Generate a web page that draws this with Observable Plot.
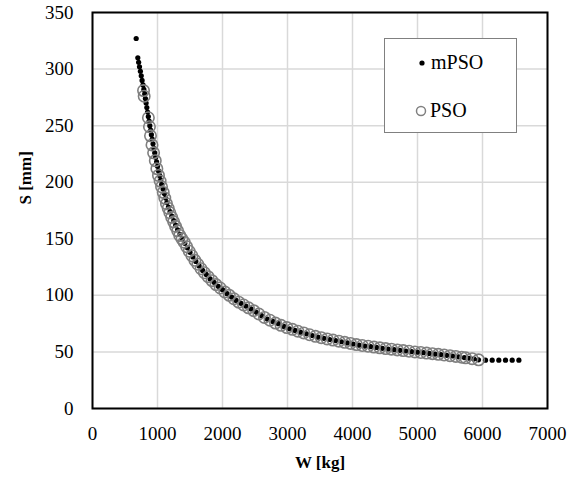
<!DOCTYPE html>
<html>
<head>
<meta charset="utf-8">
<script src="https://cdn.jsdelivr.net/npm/d3@7"></script>
<script src="https://cdn.jsdelivr.net/npm/@observablehq/plot@0.6"></script>
<style>
html, body { margin: 0; padding: 0; background: #fff; }
#wrap { position: relative; width: 583px; height: 479px; }
#wrap svg text { font-family: "Liberation Serif", "Times New Roman", serif; }
#legend { position: absolute; left: 384px; top: 38px; width: 133px; height: 95px; box-sizing: border-box;
  border: 1.5px solid #808080; background: #fff;
  font-family: "Liberation Serif", "Times New Roman", serif; font-size: 20px; color: #000; }
#legend .item { position: absolute; height: 24px; line-height: 24px; white-space: nowrap; }
#legend svg { position: absolute; }
</style>
</head>
<body>
<div id="wrap"></div>
<script>
// ---- data ----
const xTicks = [0, 1000, 2000, 3000, 4000, 5000, 6000, 7000];
const yTicks = [0, 50, 100, 150, 200, 250, 300, 350];
const seriesNames = ["mPSO", "PSO"];

const mpsoW = [672, 697, 710, 723, 737, 750, 763, 777, 790, 803, 814, 825, 836, 847, 859, 871, 882, 894, 906, 919,
  931, 944, 957, 971, 986, 1000, 1017, 1033, 1050, 1064, 1086, 1105, 1125, 1145, 1168, 1193, 1220, 1250, 1279, 1309,
  1345, 1382, 1420, 1460, 1500, 1545, 1590, 1640, 1695, 1750, 1810, 1870, 1935, 2000, 2070, 2140, 2210, 2285, 2360, 2440,
  2520, 2600, 2690, 2775, 2860, 2945, 3030, 3115, 3200, 3290, 3380, 3470, 3560, 3650, 3740, 3830, 3920, 4010, 4100, 4190,
  4280, 4370, 4460, 4550, 4640, 4730, 4820, 4910, 5000, 5090, 5180, 5270, 5360, 5450, 5540, 5630, 5720, 5800, 5866, 5938,
  6046, 6149, 6251, 6354, 6457, 6560];
const mpsoS = [327, 310, 306, 302, 298, 294, 290, 286, 282, 278, 274, 270, 266, 262, 258, 254, 250, 246, 242, 238,
  234, 230, 226, 222, 218, 214, 210, 206, 202, 198, 194, 190, 186, 182, 178, 174, 170, 166, 162, 158,
  154, 150, 146, 142, 138, 134, 130, 126, 122, 118.5, 114.5, 111.5, 108, 105, 101.5, 98.5, 95.5, 93, 90.5, 88,
  85, 82, 79, 77, 75, 72.5, 70.5, 69, 67.5, 66, 64.5, 63, 62, 61, 60, 59, 58, 57, 56, 55.2,
  54.6, 54, 53.2, 52.6, 52, 51.4, 50.8, 50.2, 49.8, 49.3, 48.7, 48.1, 47.6, 47, 46.4, 45.7, 45, 44.4, 43.8, 43,
  42.7, 42.7, 42.7, 42.7, 42.7, 42.7];

const psoW = [785, 795, 860, 876, 892, 915, 940, 966, 990, 1015, 1040, 1062, 1088, 1112, 1138, 1165, 1190, 1218, 1248, 1278,
  1310, 1342, 1375, 1410, 1448, 1488, 1530, 1575, 1620, 1670, 1722, 1778, 1838, 1900, 1965, 2035, 2105, 2175, 2250, 2325,
  2400, 2480, 2560, 2645, 2730, 2815, 2900, 2990, 3075, 3160, 3250, 3340, 3430, 3520, 3610, 3700, 3790, 3880, 3970, 4060,
  4150, 4240, 4330, 4420, 4510, 4600, 4690, 4780, 4870, 4960, 5050, 5140, 5230, 5320, 5410, 5500, 5590, 5680, 5740, 5840, 5940];
const psoS = [281, 276, 257, 249, 241, 233, 226, 219, 212, 206, 201, 196, 191, 186, 181, 177, 173, 169, 165, 161,
  157, 153, 150, 147, 143, 139, 135, 131, 127.5, 123.5, 120, 116.5, 113, 109.5, 106.5, 103, 100, 97, 94, 91.5,
  89, 86.5, 83.5, 80.5, 78, 75.5, 73.5, 71.5, 70, 68.3, 66.8, 65.2, 63.8, 62.6, 61.5, 60.5, 59.5, 58.5, 57.5, 56.5,
  55.7, 55, 54.3, 53.6, 53, 52.4, 51.8, 51.2, 50.6, 50, 49.5, 49, 48.5, 47.9, 47.3, 46.7, 46, 45.3, 44.8, 44, 43];

const xTitle = "W [kg]";
const yTitle = "S [mm]";

// ---- build tables ----
const mpso = mpsoW.map((w, i) => ({W: w, S: mpsoS[i]}));
const pso = psoW.map((w, i) => ({W: w, S: psoS[i]}));

const font = "Liberation Serif";
const fmt = (d) => String(d);

const chart = Plot.plot({
  width: 583,
  height: 479,
  marginLeft: 92,
  marginRight: 36,
  marginTop: 12,
  marginBottom: 71,
  style: "font-family: 'Liberation Serif', 'Times New Roman', serif; font-size: 19px; color: #000; background: #fff;",
  x: {domain: [0, 7000]},
  y: {domain: [0, 350]},
  marks: [
    Plot.gridX(xTicks, {stroke: "#d9d9d9", strokeOpacity: 1, strokeWidth: 1.5}),
    Plot.gridY(yTicks, {stroke: "#d9d9d9", strokeOpacity: 1, strokeWidth: 1.5}),
    Plot.axisX(xTicks, {tickSize: 0, tickPadding: 18, label: null, fontSize: 19, fill: "#000", fontFamily: font, tickFormat: fmt}),
    Plot.axisY(yTicks, {tickSize: 0, tickPadding: 19, label: null, fontSize: 19, fill: "#000", fontFamily: font, tickFormat: fmt}),
    Plot.dot(mpso, {x: "W", y: "S", r: 2.6, fill: "#000", stroke: "none"}),
    Plot.dot(pso, {x: "W", y: "S", r: 5.7, stroke: "#7f7f7f", strokeWidth: 1.6, fill: "none"}),
    Plot.frame({stroke: "#000", strokeWidth: 2}),
    Plot.text([xTitle], {frameAnchor: "bottom", dy: 59, fontWeight: "bold", fontSize: 17, fill: "#000", fontFamily: font}),
    Plot.text([yTitle], {frameAnchor: "left", dx: -67, dy: -6, rotate: -90, fontWeight: "bold", fontSize: 17, fill: "#000", fontFamily: font})
  ]
});

const wrap = document.getElementById("wrap");
wrap.appendChild(chart);

// legend (HTML overlay inside plot area)
const legend = document.createElement("div");
legend.id = "legend";
legend.innerHTML = `
  <svg width="12" height="12" style="left:31px;top:18px"><circle cx="6" cy="6" r="2.6" fill="#000"/></svg>
  <div class="item" style="left:46px;top:11px">${seriesNames[0]}</div>
  <svg width="14" height="14" style="left:29px;top:65px"><circle cx="7" cy="7" r="4.5" fill="none" stroke="#808080" stroke-width="1.5"/></svg>
  <div class="item" style="left:45px;top:59px">${seriesNames[1]}</div>
`;
wrap.appendChild(legend);
</script>
</body>
</html>
